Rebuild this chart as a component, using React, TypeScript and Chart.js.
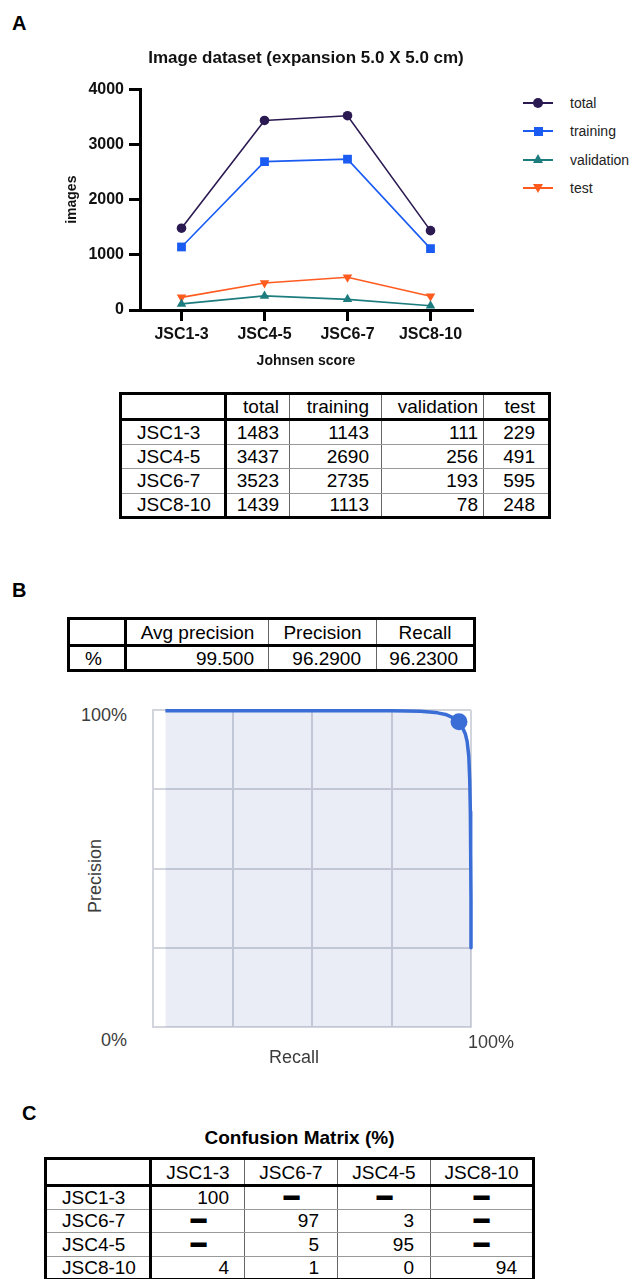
import React, { useEffect, useRef } from "react";
import { Chart, registerables } from "chart.js";

Chart.register(...registerables);

const FONT = "'Liberation Sans', Arial, Helvetica, sans-serif";

// ---------- Panel A data ----------
const categories = ["JSC1-3", "JSC4-5", "JSC6-7", "JSC8-10"];
const seriesNames = ["total", "training", "validation", "test"];
const totalImages = [1483, 3437, 3523, 1439];
const trainingImages = [1143, 2690, 2735, 1113];
const validationImages = [111, 256, 193, 78];
const testImages = [229, 491, 595, 248];
const yTickValues = [0, 1000, 2000, 3000, 4000];

// ---------- Panel B data ----------
const metricNames = ["Avg precision", "Precision", "Recall"];
const metricValues = ["99.500", "96.2900", "96.2300"];
const prRecall = [3.9, 20, 40, 60, 75, 80, 84, 87, 89.5, 92, 94.3, 96.2, 97.3, 98.2, 98.8, 99.3, 99.6, 99.8, 99.9, 100, 100];
const prPrecision = [99.8, 99.8, 99.8, 99.8, 99.8, 99.7, 99.6, 99.4, 99.1, 98.6, 97.6, 96.0, 94.5, 92.5, 90.0, 85.5, 78.0, 68.0, 55.0, 40.0, 25.0];
const pointRecall = [96.23];
const pointPrecision = [96.29];
const prAxisTicks = [0, 25, 50, 75, 100];

// ---------- Panel C data ----------
const cmClasses = ["JSC1-3", "JSC6-7", "JSC4-5", "JSC8-10"];
const cmRowJSC13 = [100, null, null, null];
const cmRowJSC67 = [null, 97, 3, null];
const cmRowJSC45 = [null, 5, 95, null];
const cmRowJSC810 = [4, 1, 0, 94];

// ---------- styles ----------
const SERIES_COLORS = ["#2b1a52", "#1a5cf2", "#1c7c7e", "#ff5b1f"];
const SERIES_POINTS = [
  { style: "circle", rot: 0, r: 4.8 },
  { style: "rect", rot: 0, r: 6.2 },
  { style: "triangle", rot: 0, r: 5.5 },
  { style: "triangle", rot: 180, r: 5.5 },
];
const PR_BLUE = "#3a6ed6";
const PR_GRID = "#d2d5db";

type TextProps = {
  x: number;
  y: number;
  size: number;
  bold?: boolean;
  anchor?: "start" | "middle" | "end";
  color?: string;
  rotate?: number;
  children: React.ReactNode;
};

function Text({ x, y, size, bold, anchor = "start", color = "#000", rotate, children }: TextProps) {
  const tx = anchor === "start" ? "0" : anchor === "middle" ? "-50%" : "-100%";
  return (
    <div
      style={{
        position: "absolute",
        left: x,
        top: y,
        fontFamily: FONT,
        fontSize: size,
        fontWeight: bold ? 700 : 400,
        color,
        lineHeight: 1,
        whiteSpace: "nowrap",
        transform: `translate(${tx}, -50%)` + (rotate ? ` rotate(${rotate}deg)` : ""),
      }}
    >
      {children}
    </div>
  );
}

function DatasetChart() {
  const ref = useRef<HTMLCanvasElement>(null);
  useEffect(() => {
    const series = [totalImages, trainingImages, validationImages, testImages];
    const tickFont = { family: FONT, size: 16, weight: "bold" as const };
    const chart = new Chart(ref.current!, {
      type: "line",
      data: {
        labels: categories,
        datasets: series.map((d, i) => ({
          label: seriesNames[i],
          data: d,
          borderColor: SERIES_COLORS[i],
          backgroundColor: SERIES_COLORS[i],
          borderWidth: 1.6,
          pointStyle: SERIES_POINTS[i].style as any,
          pointRotation: SERIES_POINTS[i].rot,
          pointRadius: SERIES_POINTS[i].r,
          pointHoverRadius: SERIES_POINTS[i].r,
          pointBorderWidth: 0,
          tension: 0,
          fill: false,
          clip: false as any,
        })),
      },
      options: {
        responsive: false,
        animation: false,
        devicePixelRatio: 1,
        layout: { padding: { left: 0, right: 18, top: 0, bottom: 0 } },
        plugins: {
          legend: { display: false },
          tooltip: { enabled: false },
          title: {
            display: true,
            fullSize: false,
            text: "Image dataset (expansion 5.0 X 5.0 cm)",
            color: "#111",
            font: { family: FONT, size: 17, weight: "bold" },
            padding: { top: 18, bottom: 21 },
          },
        },
        scales: {
          x: {
            type: "category",
            offset: true,
            grid: {
              display: true,
              drawOnChartArea: false,
              drawTicks: true,
              tickLength: 11,
              color: "#000",
              lineWidth: 3,
            },
            border: { display: true, color: "#000", width: 3 },
            ticks: { color: "#111", font: tickFont, padding: 4, maxRotation: 0 },
            title: {
              display: true,
              text: "Johnsen score",
              color: "#111",
              font: { family: FONT, size: 14, weight: "bold" },
              padding: { top: 0, bottom: 10 },
            },
            afterFit: (s: any) => {
              s.height = 70;
            },
          },
          y: {
            min: yTickValues[0],
            max: yTickValues[yTickValues.length - 1],
            ticks: {
              stepSize: yTickValues[1] - yTickValues[0],
              color: "#111",
              font: tickFont,
              padding: 5,
              callback: (v: any) => String(v),
            },
            grid: {
              display: true,
              drawOnChartArea: false,
              drawTicks: true,
              tickLength: 11,
              color: "#000",
              lineWidth: 3,
            },
            border: { display: true, color: "#000", width: 3 },
            title: {
              display: true,
              text: "images",
              color: "#111",
              font: { family: FONT, size: 14, weight: "bold" },
              padding: { top: 64, bottom: 0 },
            },
            afterFit: (s: any) => {
              s.width = 140;
            },
          },
        },
      },
    });
    return () => chart.destroy();
  }, []);
  return (
    <canvas
      ref={ref}
      width={490}
      height={350}
      style={{ position: "absolute", left: 0, top: 30, width: 490, height: 350 }}
    />
  );
}

function Legend() {
  return (
    <>
      {seriesNames.map((name, i) => {
        const y = 103 + i * 28.4;
        const color = SERIES_COLORS[i];
        let marker: React.CSSProperties;
        if (i === 0) marker = { width: 10, height: 10, borderRadius: "50%", background: color, left: 533, top: y - 5 };
        else if (i === 1) marker = { width: 9, height: 9, background: color, left: 533.5, top: y - 4.5 };
        else if (i === 2)
          marker = {
            width: 0, height: 0, borderLeft: "5px solid transparent", borderRight: "5px solid transparent",
            borderBottom: `9px solid ${color}`, left: 533, top: y - 5.5,
          };
        else
          marker = {
            width: 0, height: 0, borderLeft: "5px solid transparent", borderRight: "5px solid transparent",
            borderTop: `9px solid ${color}`, left: 533, top: y - 4,
          };
        return (
          <React.Fragment key={name}>
            <div style={{ position: "absolute", left: 523, top: y - 1, width: 30, height: 2, background: color }} />
            <div style={{ position: "absolute", ...marker }} />
            <Text x={570} y={y} size={14} color="#222">
              {name}
            </Text>
          </React.Fragment>
        );
      })}
    </>
  );
}

function PRChart() {
  const ref = useRef<HTMLCanvasElement>(null);
  useEffect(() => {
    const axis = (isX: boolean) => ({
      type: "linear" as const,
      min: prAxisTicks[0],
      max: prAxisTicks[prAxisTicks.length - 1],
      ticks: { stepSize: prAxisTicks[1] - prAxisTicks[0], display: false },
      grid: { color: PR_GRID, lineWidth: 2, drawTicks: false },
      border: { display: true, color: PR_GRID, width: 2 },
      afterFit: (s: any) => {
        if (isX) s.height = 0;
        else s.width = 0;
      },
    });
    const chart = new Chart(ref.current!, {
      type: "line",
      data: {
        datasets: [
          {
            label: "Operating point",
            data: pointRecall.map((r, i) => ({ x: r, y: pointPrecision[i] })),
            showLine: false,
            pointRadius: 8.5,
            pointHoverRadius: 8.5,
            pointBackgroundColor: PR_BLUE,
            pointBorderWidth: 0,
            clip: false as any,
          },
          {
            label: "Precision-recall curve",
            data: prRecall.map((r, i) => ({ x: r, y: prPrecision[i] })),
            borderColor: PR_BLUE,
            borderWidth: 3.5,
            pointRadius: 0,
            pointHoverRadius: 0,
            fill: "origin",
            backgroundColor: "rgba(60, 90, 170, 0.11)",
            tension: 0,
            borderJoinStyle: "round",
            clip: false as any,
          },
        ],
      },
      options: {
        responsive: false,
        animation: false,
        devicePixelRatio: 1,
        layout: { padding: { left: 10, top: 10, right: 12, bottom: 13 } },
        plugins: { legend: { display: false }, tooltip: { enabled: false } },
        scales: { x: axis(true), y: axis(false) },
      },
    });
    return () => chart.destroy();
  }, []);
  return (
    <canvas
      ref={ref}
      width={340}
      height={340}
      style={{ position: "absolute", left: 143, top: 700, width: 340, height: 340 }}
    />
  );
}

type Cell = { text: React.ReactNode; align: "left" | "right" | "center"; pad: number };

function DataTable({
  left, top, colWidths, rowHeights, rows,
}: { left: number; top: number; colWidths: number[]; rowHeights: number[]; rows: Cell[][] }) {
  const total = colWidths.reduce((a, b) => a + b, 0);
  return (
    <table
      style={{
        position: "absolute", left, top, width: total, borderCollapse: "collapse", tableLayout: "fixed",
        border: "3px solid #000", fontFamily: FONT, fontSize: 19, color: "#000",
      }}
    >
      <colgroup>
        {colWidths.map((w, i) => (
          <col key={i} style={{ width: w }} />
        ))}
      </colgroup>
      <tbody>
        {rows.map((r, ri) => (
          <tr key={ri} style={{ height: rowHeights[ri] }}>
            {r.map((c, ci) => (
              <td
                key={ci}
                style={{
                  padding: 0,
                  paddingLeft: c.align === "left" ? c.pad : 0,
                  paddingRight: c.align === "right" ? c.pad : 0,
                  textAlign: c.align,
                  lineHeight: 1,
                  whiteSpace: "nowrap",
                  overflow: "visible",
                  verticalAlign: "middle",
                  borderTop: ri === 0 ? "3px solid #000" : ri === 1 ? "3px solid #000" : "1px solid #999",
                  borderBottom: ri === 0 ? "3px solid #000" : ri === rows.length - 1 ? "3px solid #000" : "1px solid #999",
                  borderLeft: ci === 0 ? "3px solid #000" : ci === 1 ? "3px solid #000" : "1px solid #666",
                  borderRight: ci === 0 ? "3px solid #000" : ci === r.length - 1 ? "3px solid #000" : "1px solid #666",
                }}
              >
                {c.text}
              </td>
            ))}
          </tr>
        ))}
      </tbody>
    </table>
  );
}

function Dash() {
  return (
    <span style={{ display: "inline-block", fontWeight: 700, transform: "translateY(-3.5px) scale(0.85, 2.4)" }}>—</span>
  );
}

export default function App() {
  // Table A
  const padsA = [15, 10, 12, 5, 13];
  const tableARows: Cell[][] = [
    [{ text: "", align: "left", pad: padsA[0] }, ...seriesNames.map((n, i) => ({ text: n, align: "right" as const, pad: padsA[i + 1] }))],
    ...categories.map((cat, ci) => [
      { text: cat, align: "left" as const, pad: padsA[0] },
      { text: String(totalImages[ci]), align: "right" as const, pad: padsA[1] },
      { text: String(trainingImages[ci]), align: "right" as const, pad: padsA[2] },
      { text: String(validationImages[ci]), align: "right" as const, pad: padsA[3] },
      { text: String(testImages[ci]), align: "right" as const, pad: padsA[4] },
    ]),
  ];

  // Table B
  const tableBRows: Cell[][] = [
    [{ text: "", align: "left", pad: 15 }, ...metricNames.map((n) => ({ text: n, align: "center" as const, pad: 0 }))],
    [{ text: "%", align: "left", pad: 15 }, ...metricValues.map((v, i) => ({ text: v, align: "right" as const, pad: i === 0 ? 14 : 15 }))],
  ];

  // Table C
  const cmRows = [cmRowJSC13, cmRowJSC67, cmRowJSC45, cmRowJSC810];
  const padsC = [15, 15, 18, 16, 15];
  const tableCRows: Cell[][] = [
    [{ text: "", align: "left", pad: 15 }, ...cmClasses.map((n) => ({ text: n, align: "center" as const, pad: 0 }))],
    ...cmRows.map((row, ri) => [
      { text: cmClasses[ri], align: "left" as const, pad: padsC[0] },
      ...row.map((v, ci) =>
        v === null
          ? { text: <Dash />, align: "center" as const, pad: 0 }
          : { text: String(v), align: "right" as const, pad: padsC[ci + 1] }
      ),
    ]),
  ];

  return (
    <div
      style={{
        position: "absolute", left: 0, top: 0, width: 632, height: 1279, overflow: "hidden",
        background: "#fff", fontFamily: FONT, color: "#000",
      }}
    >
      <Text x={12} y={23} size={20} bold>A</Text>
      <DatasetChart />
      <Legend />
      <DataTable left={119} top={392} colWidths={[105, 64, 92, 102, 66]} rowHeights={[26, 24.5, 24.5, 24.5, 24.5]} rows={tableARows} />

      <Text x={12} y={590} size={20} bold>B</Text>
      <DataTable left={67} top={617} colWidths={[57, 143, 108, 98]} rowHeights={[27, 25]} rows={tableBRows} />
      <PRChart />
      <Text x={127} y={715} size={18} anchor="end" color="#3c3c3c">100%</Text>
      <Text x={127} y={1040} size={18} anchor="end" color="#3c3c3c">0%</Text>
      <Text x={468} y={1042} size={18} color="#3c3c3c">100%</Text>
      <Text x={294} y={1057} size={18} anchor="middle" color="#3c3c3c">Recall</Text>
      <Text x={94.5} y={876} size={18} anchor="middle" rotate={-90} color="#3c3c3c">Precision</Text>

      <Text x={22} y={1113} size={20} bold>C</Text>
      <Text x={299.5} y={1137} size={19} bold anchor="middle">Confusion Matrix (%)</Text>
      <DataTable left={44} top={1157} colWidths={[105, 94, 93, 93, 103]} rowHeights={[27, 23.5, 23.5, 23.5, 23.5]} rows={tableCRows} />
    </div>
  );
}
